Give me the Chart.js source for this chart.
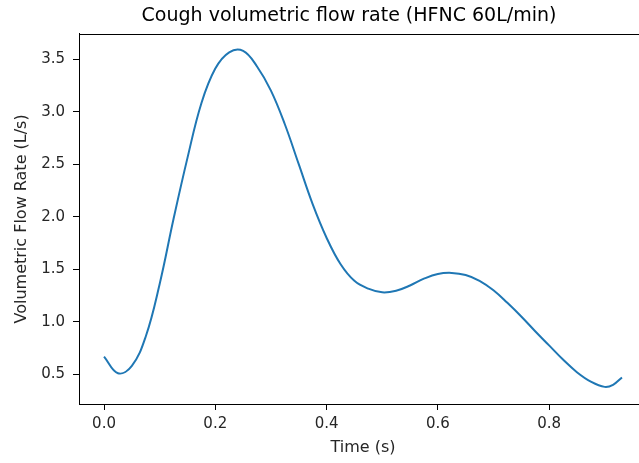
<!DOCTYPE html>
<html>
<head>
<meta charset="utf-8">
<script src="https://cdn.jsdelivr.net/npm/chart.js@4"></script>
<style>
  html, body { margin: 0; padding: 0; background: #fff; overflow: hidden; }
  #wrap { width: 639px; height: 463px; overflow: hidden; }
</style>
</head>
<body>
<div id="wrap"><canvas id="flowChart" width="698" height="463"></canvas></div>
<script>
// Data (every 0.025 s)
const timeValues = [0, 0.025, 0.05, 0.075, 0.1, 0.125, 0.15, 0.175, 0.2, 0.225, 0.25,
  0.275, 0.3, 0.325, 0.35, 0.375, 0.4, 0.425, 0.45, 0.475, 0.5,
  0.525, 0.55, 0.575, 0.6, 0.625, 0.65, 0.675, 0.7, 0.725, 0.75,
  0.775, 0.8, 0.825, 0.85, 0.875, 0.9, 0.915, 0.931];
const flowValues = [0.668, 0.51, 0.58, 0.86, 1.36, 1.98, 2.56, 3.08, 3.41, 3.565, 3.578,
  3.43, 3.20, 2.88, 2.50, 2.12, 1.80, 1.55, 1.39, 1.315, 1.28,
  1.295, 1.345, 1.41, 1.455, 1.465, 1.445, 1.39, 1.30, 1.18, 1.05,
  0.91, 0.775, 0.64, 0.52, 0.43, 0.38, 0.40, 0.47];
const xTicks = [0.0, 0.2, 0.4, 0.6, 0.8];
const yTicks = [0.5, 1.0, 1.5, 2.0, 2.5, 3.0, 3.5];

const font = "'DejaVu Sans', sans-serif";
const textColor = '#262626';

// draws the top/right spines as a box round the plot, and centres the title on the whole figure
const frameBox = {
  id: 'frameBox',
  afterLayout(chart) {
    const t = chart.titleBlock;
    if (t) { t.left = 0; t.right = chart.width; t.width = chart.width; }
  },
  afterDraw(chart) {
    const a = chart.chartArea;
    const ctx = chart.ctx;
    ctx.save();
    ctx.strokeStyle = '#000';
    ctx.lineWidth = 1;
    ctx.strokeRect(Math.round(a.left) + 0.5, Math.round(a.top) + 0.5, Math.round(a.right - a.left), Math.round(a.bottom - a.top));
    ctx.restore();
  }
};

const canvas = document.querySelector('#flowChart');
new Chart(canvas, {
  type: 'line',
  data: {
    datasets: [{
      label: 'flow',
      data: timeValues.map((t, i) => ({ x: t, y: flowValues[i] })),
      borderColor: '#1f77b4',
      borderWidth: 2,
      pointRadius: 0,
      fill: false,
      tension: 0.4
    }]
  },
  options: {
    responsive: false,
    animation: false,
    layout: { padding: { left: 8, right: 51, top: 0, bottom: 2 } },
    plugins: {
      legend: { display: false },
      tooltip: { enabled: false },
      title: {
        display: true,
        text: 'Cough volumetric flow rate (HFNC 60L/min)',
        color: '#000',
        font: { family: font, size: 19, weight: 'normal' },
        padding: { top: 5, bottom: 6 }
      }
    },
    scales: {
      x: {
        type: 'linear',
        min: -0.045,
        max: 0.976,
        afterBuildTicks: axis => { axis.ticks = xTicks.map(v => ({ value: v })); },
        afterFit: axis => { axis.height = 57; },
        ticks: {
          color: textColor,
          font: { family: font, size: 15 },
          padding: 5,
          maxRotation: 0,
          callback: v => v.toFixed(1)
        },
        grid: { display: true, drawOnChartArea: false, drawTicks: true, tickLength: 6, color: '#000' },
        border: { display: true, color: '#000' },
        title: {
          display: true,
          text: 'Time (s)',
          color: textColor,
          font: { family: font, size: 16 },
          padding: { top: 4, bottom: 4 }
        }
      },
      y: {
        type: 'linear',
        min: 0.217,
        max: 3.741,
        afterBuildTicks: axis => { axis.ticks = yTicks.map(v => ({ value: v })); },
        afterFit: axis => { axis.width = 71; },
        ticks: {
          color: textColor,
          font: { family: font, size: 15 },
          padding: 8,
          callback: v => v.toFixed(1)
        },
        grid: { display: true, drawOnChartArea: false, drawTicks: true, tickLength: 6, color: '#000' },
        border: { display: true, color: '#000' },
        title: {
          display: true,
          text: 'Volumetric Flow Rate (L/s)',
          color: textColor,
          font: { family: font, size: 16 },
          padding: { top: 4, bottom: 4 }
        }
      }
    }
  },
  plugins: [frameBox]
});
</script>
</body>
</html>
